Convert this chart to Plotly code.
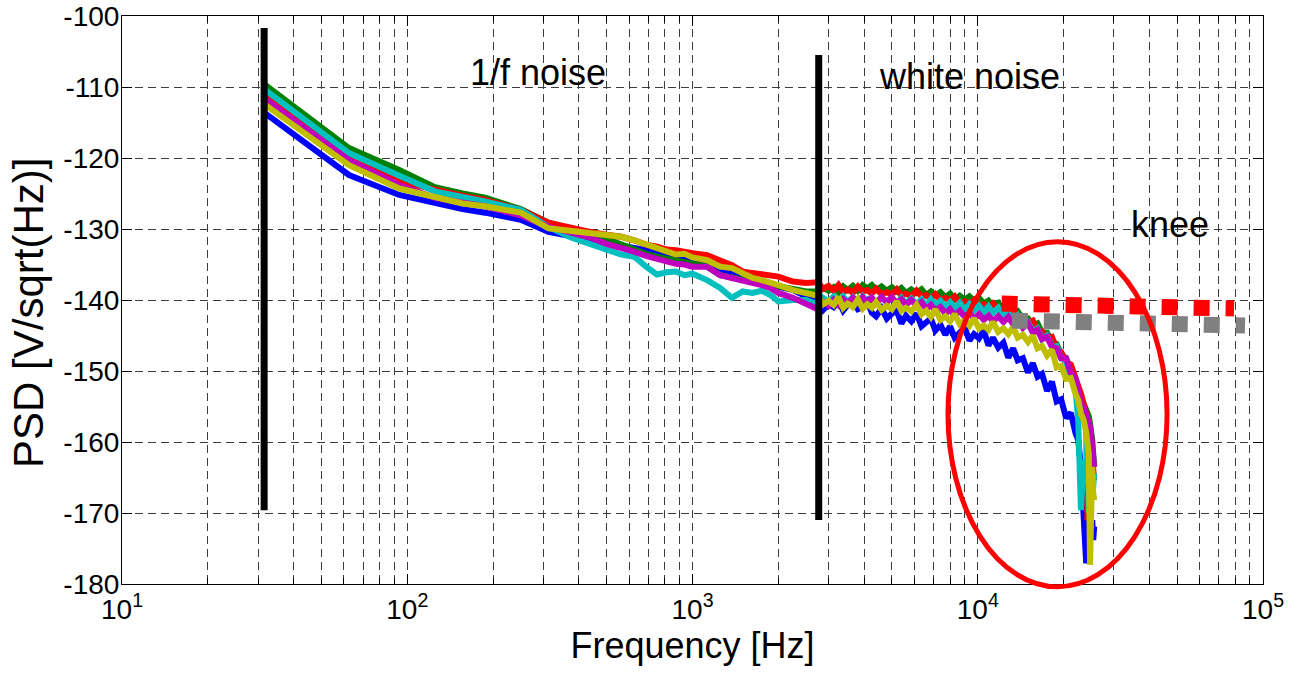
import math
import plotly.graph_objects as go

# ---------------- data ----------------
freq_hz = [31.25, 62.5, 93.75, 125, 156.25, 187.5, 250, 312.5, 375, 437.5,
           500, 562.5, 625, 687.5, 750, 812.5, 875, 937.5, 1000, 1125,
           1250, 1375, 1500, 1625, 1750, 1875, 2000, 2250, 2500,
           2750, 2870, 3000, 3125, 3250, 3375, 3500, 3650, 3800, 3950,
           4100, 4250, 4400, 4600, 4800, 5000, 5200, 5400, 5600, 5850,
           6100, 6350, 6600, 6850, 7100, 7400, 7700, 8000, 8300, 8650,
           9000, 9350, 9700, 10100, 10500, 10900, 11300, 11800, 12300, 12800,
           13300, 13800, 14400, 15000, 15600, 16200, 16800, 17500, 18200, 18900,
           19600, 20400, 21200, 22000,
           22500, 23000, 23500, 24000, 24250, 24500, 24750, 25000, 25200, 25400, 25600]

psd_blue = [-113.5, -122.4, -125.2, -126.4, -127.2, -127.7, -128.7, -130.4, -131.0, -131.5,
            -131.8, -132.2, -132.6, -133.0, -133.4, -133.8, -134.0, -134.2, -134.5, -134.9,
            -135.7, -136.1, -136.3, -137.1, -137.2, -137.7, -138.1, -138.6, -139.5,
            -140.3, -141.4, -140.6, -141.0, -140.1, -141.5, -140.7, -140.2, -141.3, -141.0,
            -140.2, -141.8, -142.3, -141.2, -142.6, -141.9, -141.5, -143.3, -142.2, -143.0,
            -141.9, -143.7, -143.1, -142.6, -144.3, -143.5, -144.9, -143.7, -145.3, -144.6,
            -143.9, -145.7, -144.8, -145.4, -144.3, -146.4, -145.3, -146.7, -146.0, -148.1,
            -146.8, -148.5, -148.2, -150.2, -148.9, -150.8, -150.4, -152.8, -151.5, -154.3,
            -154.0, -156.6, -155.9, -158.7,
            -159.7, -163.5, -172.9, -177.1, -165.4, -172.9, -170.0, -172.9, -171.0, -173.8, -171.9]

psd_green = [-109.5, -118.6, -121.7, -124.1, -125.0, -125.6, -127.2, -129.1, -130.0, -130.6,
             -131.4, -132.2, -132.9, -133.5, -133.9, -134.2, -134.4, -134.6, -135.0, -135.3,
             -136.5, -136.8, -137.2, -137.4, -137.6, -137.7, -138.1, -138.4, -138.8,
             -138.8, -138.3, -138.7, -138.2, -138.9, -138.1, -138.6, -138.0, -138.7, -137.9,
             -138.4, -137.9, -138.6, -138.1, -138.7, -138.2, -138.8, -138.3, -139.0, -138.5,
             -139.0, -138.5, -139.3, -138.8, -139.4, -138.9, -139.6, -139.1, -139.9, -139.4,
             -140.0, -139.5, -140.1, -139.7, -140.5, -140.1, -140.8, -140.4, -141.4, -141.1,
             -141.9, -141.6, -142.7, -142.6, -143.6, -143.3, -144.6, -144.6, -145.9, -146.2,
             -147.7, -148.2, -150.0, -151.1,
             -152.7, -153.6, -154.6, -155.5, -156.0, -156.4, -157.4, -158.3, -159.7, -161.6, -163.5]

psd_red = [-110.9, -120.0, -123.3, -124.5, -125.3, -125.9, -127.3, -129.1, -129.9, -130.4,
           -130.8, -131.1, -131.6, -132.2, -132.5, -132.9, -133.0, -133.3, -133.4, -133.7,
           -134.4, -135.1, -136.0, -136.2, -136.2, -136.5, -136.7, -137.4, -137.6,
           -137.5, -138.4, -138.0, -138.7, -137.9, -138.9, -138.5, -139.0, -138.1, -138.8,
           -138.6, -139.1, -138.4, -139.2, -138.9, -139.2, -138.5, -139.4, -139.1, -139.5,
           -138.7, -139.5, -139.3, -139.8, -139.2, -140.0, -139.7, -140.1, -139.5, -140.5,
           -140.2, -140.6, -140.0, -140.9, -140.6, -141.1, -140.5, -141.3, -141.3, -142.1,
           -141.4, -142.6, -142.5, -143.2, -142.9, -144.3, -144.4, -145.4, -145.2, -146.9,
           -147.3, -148.7, -149.1, -150.8,
           -152.2, -153.2, -154.6, -156.0, -171.0, -158.3, -158.8, -160.7, -163.5, -165.4, -165.4]

psd_cyan = [-110.2, -119.3, -122.5, -124.7, -125.5, -126.1, -127.3, -129.7, -131.2, -132.2,
            -132.9, -133.6, -133.9, -135.3, -136.4, -136.1, -136.0, -136.5, -136.3, -137.2,
            -138.3, -139.7, -138.8, -139.0, -138.7, -139.3, -140.2, -140.0, -140.0,
            -140.6, -139.7, -140.2, -139.5, -140.3, -139.5, -140.3, -139.6, -140.3, -139.5,
            -140.4, -139.7, -140.4, -139.6, -140.3, -139.7, -140.5, -139.7, -140.5, -139.8,
            -140.6, -139.9, -140.8, -139.9, -140.7, -140.1, -141.0, -140.3, -141.2, -140.4,
            -141.4, -140.6, -141.5, -140.8, -141.7, -140.9, -141.8, -141.1, -142.3, -141.8,
            -142.9, -142.2, -143.5, -143.1, -144.4, -144.0, -145.5, -145.0, -146.6, -146.5,
            -148.2, -148.6, -151.2, -152.5,
            -156.9, -169.6, -162.5, -165.4, -156.9, -170.0, -161.6, -163.5, -167.2, -166.3, -164.4]

psd_magenta = [-111.5, -120.3, -123.8, -125.6, -126.3, -126.8, -128.1, -129.7, -130.5, -131.2,
               -132.1, -132.6, -133.2, -133.8, -134.2, -134.5, -134.9, -135.0, -135.3, -135.3,
               -136.5, -136.9, -137.2, -137.6, -137.9, -138.3, -139.0, -139.7, -140.5,
               -141.3, -140.3, -140.8, -140.0, -140.7, -139.9, -140.5, -139.7, -140.3, -139.6,
               -140.4, -139.7, -140.5, -139.6, -140.3, -139.6, -140.5, -139.9, -140.7, -140.0,
               -140.8, -140.3, -141.3, -140.7, -141.5, -141.0, -141.9, -141.3, -142.2, -141.5,
               -142.4, -141.8, -142.7, -142.0, -142.8, -142.2, -143.0, -142.3, -143.1, -142.4,
               -143.4, -142.8, -143.9, -143.3, -144.6, -144.2, -145.5, -145.2, -146.6, -146.8,
               -148.2, -148.2, -150.3, -151.0,
               -153.2, -154.6, -155.0, -156.0, -156.4, -156.9, -157.8, -159.2, -160.7, -161.6, -163.5]

psd_yellow = [-112.3, -121.0, -124.3, -125.5, -126.4, -126.8, -127.7, -129.9, -130.3, -130.5,
              -130.8, -131.1, -131.6, -132.2, -132.7, -133.1, -133.6, -133.5, -134.0, -134.4,
              -135.3, -135.5, -136.2, -136.9, -137.2, -137.5, -137.9, -138.6, -139.0,
              -139.4, -140.6, -140.1, -140.7, -139.6, -141.1, -140.5, -141.0, -139.9, -141.2,
              -140.6, -141.1, -140.3, -141.4, -140.8, -141.3, -140.2, -141.5, -141.1, -141.6,
              -140.7, -142.0, -141.5, -142.4, -141.3, -142.8, -142.3, -143.0, -142.0, -143.4,
              -142.9, -143.6, -142.6, -144.0, -143.6, -144.2, -143.1, -144.5, -144.0, -144.8,
              -143.8, -145.3, -144.9, -145.9, -145.0, -146.8, -146.5, -147.8, -147.0, -149.5,
              -149.3, -151.1, -151.0, -153.2,
              -154.1, -156.0, -156.9, -158.7, -159.7, -161.6, -177.3, -165.4, -163.5, -167.2, -168.2]

# extrapolated white-noise levels ("knee" guides)
knee_red_hz = [12130, 79150]
knee_red_db = [-140.5, -141.2]
knee_gray_hz = [13165, 86500]
knee_gray_db = [-142.9, -143.6]

# black region separators
sep_hz = [31.5, 2770]
sep_top_db = [-101.7, -105.5]
sep_bottom_db = [-169.6, -171.0]

# ellipse around the knee (frequency span and dB span)
ellipse_hz = [7863, 46100]
ellipse_db = [-180.4, -131.8]

# text labels
label_text = ["1/f noise", "white noise", "knee"]
label_hz = [287, 9355, 47200]
label_db = [-107.9, -108.5, -129.4]

x_tick_vals = [10, 100, 1000, 10000, 100000]
x_tick_text = ["10<sup>1</sup>", "10<sup>2</sup>", "10<sup>3</sup>", "10<sup>4</sup>", "10<sup>5</sup>"]
x_minor_vals = [m * 10 ** d for d in range(1, 5) for m in range(2, 10)]
y_tick_vals = [-180, -170, -160, -150, -140, -130, -120, -110, -100]
y_tick_text = ["-180", "-170", "-160", "-150", "-140", "-130", "-120", "-110", "-100"]

X_RANGE_LOG = [1, 5]
Y_RANGE = [-180, -100]

FONT = "Liberation Sans, Arial, Helvetica, sans-serif"
GRID_COLOR = "#3c3c3c"
GRID_DASH = "8px,5px"

series = [
    ("blue", psd_blue, "#0000FF"),
    ("green", psd_green, "#008000"),
    ("red", psd_red, "#FF0000"),
    ("cyan", psd_cyan, "#00BFBF"),
    ("magenta", psd_magenta, "#BF00BF"),
    ("yellow", psd_yellow, "#BFBF00"),
]

fig = go.Figure()

for name, vals, col in series:
    fig.add_trace(go.Scatter(x=freq_hz, y=vals, mode="lines", name=name,
                             line=dict(color=col, width=6), hoverinfo="x+y"))

fig.add_trace(go.Scatter(x=knee_red_hz, y=knee_red_db, mode="lines",
                         line=dict(color="#FF0000", width=16, dash="16px,16px")))
fig.add_trace(go.Scatter(x=knee_gray_hz, y=knee_gray_db, mode="lines",
                         line=dict(color="#808080", width=16, dash="16px,16px")))

for f, top, bot in zip(sep_hz, sep_top_db, sep_bottom_db):
    fig.add_trace(go.Scatter(x=[f, f], y=[top, bot], mode="lines",
                             line=dict(color="black", width=7)))


# ellipse in paper coordinates (so it may overflow the axes box slightly)
def x_paper(f):
    return (math.log10(f) - X_RANGE_LOG[0]) / (X_RANGE_LOG[1] - X_RANGE_LOG[0])


def y_paper(v):
    return (v - Y_RANGE[0]) / (Y_RANGE[1] - Y_RANGE[0])


fig.add_shape(type="circle", xref="paper", yref="paper",
              x0=x_paper(ellipse_hz[0]), x1=x_paper(ellipse_hz[1]),
              y0=y_paper(ellipse_db[0]), y1=y_paper(ellipse_db[1]),
              line=dict(color="#FF0000", width=5), layer="above")

for txt, f, v in zip(label_text, label_hz, label_db):
    fig.add_annotation(x=math.log10(f), y=v, text=txt, showarrow=False,
                       xanchor="center", yanchor="middle",
                       font=dict(family=FONT, size=36, color="black"))

# y-axis title as a rotated annotation, centred on the plot height
fig.add_annotation(xref="paper", yref="paper", x=0, y=0.5, xshift=-94, yshift=-13,
                   text="PSD [V/sqrt(Hz)]", textangle=-90, showarrow=False,
                   xanchor="center", yanchor="middle",
                   font=dict(family=FONT, size=42, color="black"))

fig.update_layout(
    width=1303, height=674,
    margin=dict(l=122, r=40, t=16, b=90),
    paper_bgcolor="white", plot_bgcolor="white",
    showlegend=False,
    font=dict(family=FONT, color="black"),
)

fig.update_xaxes(
    type="log", range=X_RANGE_LOG, automargin=False,
    tickmode="array", tickvals=x_tick_vals, ticktext=x_tick_text,
    ticks="inside", ticklen=10, tickcolor="black", tickwidth=1,
    showline=True, linecolor="black", linewidth=1, mirror="allticks",
    showgrid=True, gridcolor=GRID_COLOR, gridwidth=1, griddash=GRID_DASH,
    tickfont=dict(family=FONT, size=28, color="black"),
    title=dict(text="Frequency [Hz]", font=dict(family=FONT, size=36, color="black"), standoff=6),
    minor=dict(tickmode="array", tickvals=x_minor_vals, ticks="inside", ticklen=6,
               tickcolor="black", showgrid=True, gridcolor=GRID_COLOR,
               griddash=GRID_DASH, gridwidth=1),
    zeroline=False,
)

fig.update_yaxes(
    range=Y_RANGE, automargin=False, tickmode="array",
    tickvals=y_tick_vals, ticktext=y_tick_text,
    ticks="inside", ticklen=10, tickcolor="black", tickwidth=1,
    ticklabelstandoff=-4,
    showline=True, linecolor="black", linewidth=1, mirror="allticks",
    showgrid=True, gridcolor=GRID_COLOR, gridwidth=1, griddash=GRID_DASH,
    tickfont=dict(family=FONT, size=28, color="black"),
    zeroline=False,
)

fig.write_html("out.html",
               config={"displayModeBar": False},
               post_script="document.body.style.margin='0';document.body.style.overflow='hidden';")
